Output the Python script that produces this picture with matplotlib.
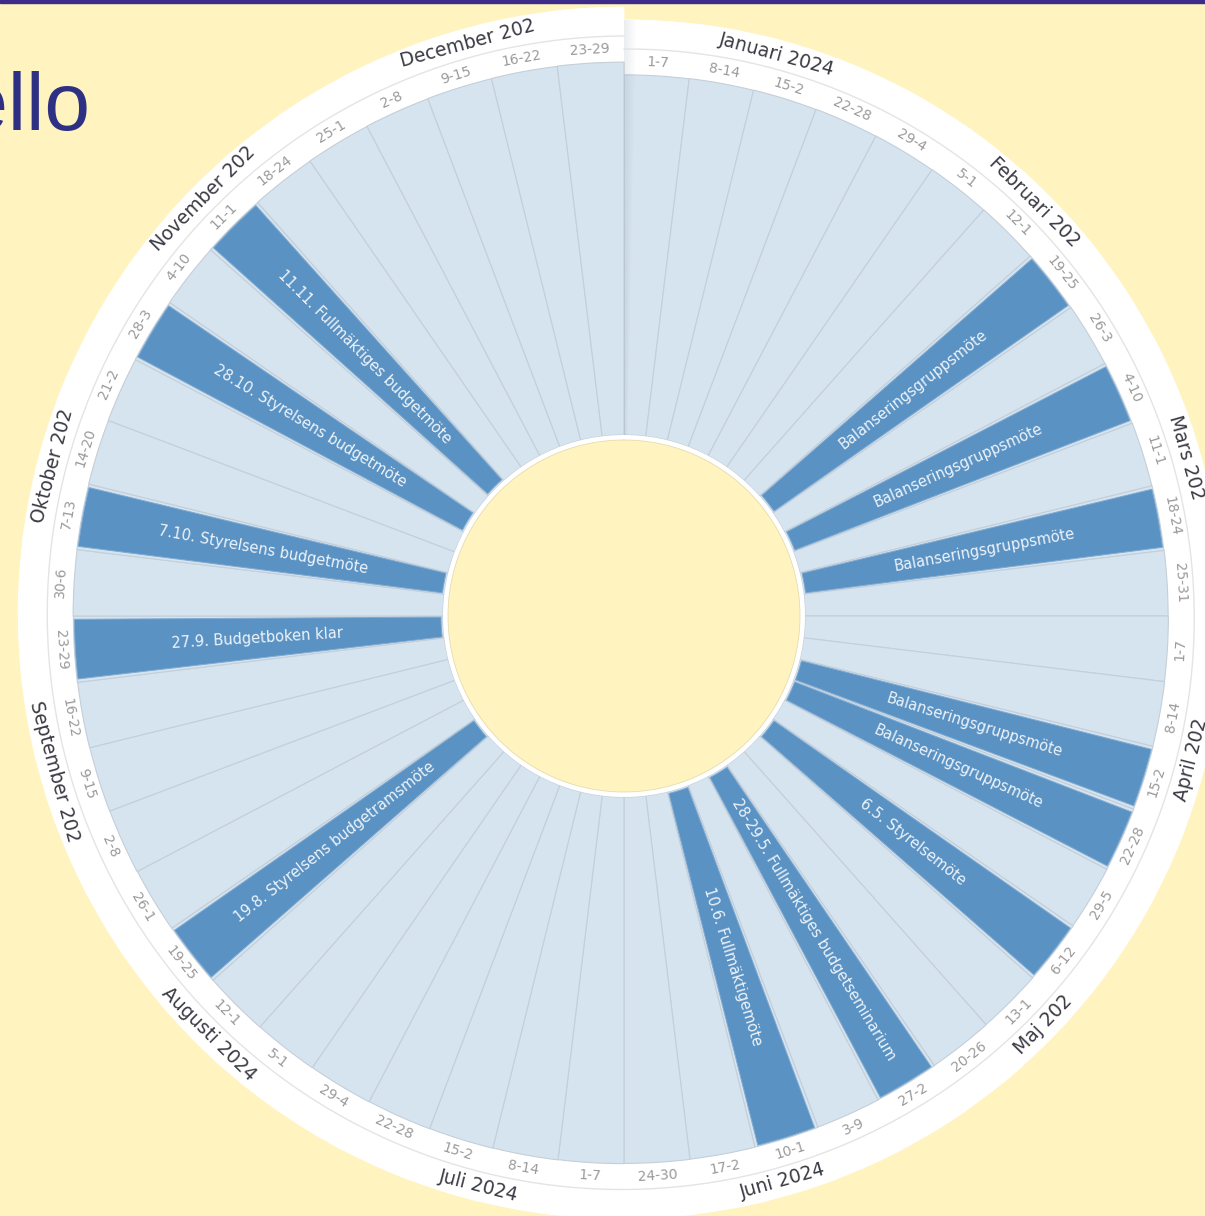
import numpy as np
import matplotlib.pyplot as plt

# --- data -----------------------------------------------------------------
weeks = ['1-7', '8-14', '15-2', '22-28', '29-4',
         '5-1', '12-1', '19-25', '26-3',
         '4-10', '11-1', '18-24', '25-31',
         '1-7', '8-14', '15-2', '22-28', '29-5',
         '6-12', '13-1', '20-26', '27-2',
         '3-9', '10-1', '17-2', '24-30',
         '1-7', '8-14', '15-2', '22-28', '29-4',
         '5-1', '12-1', '19-25', '26-1',
         '2-8', '9-15', '16-22', '23-29',
         '30-6', '7-13', '14-20', '21-2', '28-3',
         '4-10', '11-1', '18-24', '25-1',
         '2-8', '9-15', '16-22', '23-29']

months = ['Januari 2024', 'Februari 202', 'Mars 202', 'April 202', 'Maj 202',
          'Juni 2024', 'Juli 2024', 'Augusti 2024', 'September 202',
          'Oktober 202', 'November 202', 'December 202']
month_days = [31, 29, 31, 30, 31, 30, 31, 31, 30, 31, 30, 31]

event_weeks = [7, 9, 11, 15, 16, 18, 21, 23, 33, 38, 40, 43, 45]
event_labels = ['Balanseringsgruppsmöte', 'Balanseringsgruppsmöte',
                'Balanseringsgruppsmöte', 'Balanseringsgruppsmöte',
                'Balanseringsgruppsmöte', '6.5. Styrelsemöte',
                '28-29.5. Fullmäktiges budgetseminarium',
                '10.6. Fullmäktigemöte',
                '19.8. Styrelsens budgetramsmöte',
                '27.9. Budgetboken klar',
                '7.10. Styrelsens budgetmöte',
                '28.10. Styrelsens budgetmöte',
                '11.11. Fullmäktiges budgetmöte']

# --- style ----------------------------------------------------------------
BG = '#fff3bf'
LIGHT = '#d6e4f0'
DARK = '#5a92c3'

W, H = 1205, 1216
CX, CY = 624, 616          # wheel centre in pixels (from top)
R = 620                    # axes radius in pixels -> data units are pixels
R_IN = 181
R_OUT0, R_GROW = 541, 13   # outer edge grows slightly over the year
RING = 55

n = len(weeks)
slot = 2 * np.pi / n
theta = (np.arange(n) + 0.5) * slot
r_out = R_OUT0 + R_GROW * (np.arange(n) + 0.5) / n


def tang_rot(t):
    d = np.degrees(t) % 360
    return 180 - d if 90 < d < 270 else -d


def rad_rot(t):
    d = np.degrees(t) % 360
    return 90 - d if d < 180 else 270 - d


fig = plt.figure(figsize=(W / 100, H / 100), dpi=100, facecolor=BG)
ax = fig.add_axes([(CX - R) / W, (H - CY - R) / H, 2 * R / W, 2 * R / H],
                  projection='polar')
ax.set_theta_zero_location('N')
ax.set_theta_direction(-1)
ax.set_ylim(0, R)
ax.axis('off')

# white outer ring
ax.bar(theta, RING, width=slot, bottom=r_out, color='white',
       edgecolor='white', linewidth=0.6)
# separator line inside the ring
tt = np.linspace(0, 2 * np.pi, 800)
ax.plot(tt, R_OUT0 + R_GROW * tt / (2 * np.pi) + 26, color='#e4e4e4', lw=1)

# week wedges
ax.bar(theta, r_out - R_IN, width=slot, bottom=R_IN, color=LIGHT,
       edgecolor='#c4cfd9', linewidth=0.8)

# shadow where December overlaps January
for k in range(8):
    ax.bar(k * 0.0025, r_out[0] + RING - R_IN, width=0.0025, bottom=R_IN,
           align='edge', color='#6a7a88', alpha=0.13 * (1 - k / 8),
           linewidth=0)

# highlighted events
ev_theta = theta[event_weeks]
ev_rout = r_out[event_weeks]
ax.bar(ev_theta, ev_rout - R_IN - 3, width=slot * 0.9, bottom=R_IN + 2,
       color=DARK, edgecolor='#7eaad2', linewidth=0.7)
for t, lab in zip(ev_theta, event_labels):
    ax.text(t, 367, lab, rotation=rad_rot(t), rotation_mode='anchor',
            ha='center', va='center', fontsize=10.5, color='#eef4fa')

# inner circle
ax.bar(0, R_IN, width=2 * np.pi, bottom=0, color='white', linewidth=0)
ax.bar(0, R_IN - 5, width=2 * np.pi, bottom=0, color=BG, linewidth=0)
ax.plot(tt, np.full_like(tt, R_IN - 5), color='#e6dcb0', lw=0.6)

# week labels
for t, r, lab in zip(theta, r_out, weeks):
    ax.text(t, r + 13, lab, rotation=tang_rot(t), rotation_mode='anchor',
            ha='center', va='center', fontsize=10, color='#9a9a9a')

# month labels at mid-month
start = np.cumsum([0] + month_days[:-1])
for s, d, lab in zip(start, month_days, months):
    t = (s + d / 2) / sum(month_days) * 2 * np.pi
    r = R_OUT0 + R_GROW * t / (2 * np.pi) + 40
    ax.text(t, r, lab, rotation=tang_rot(t), rotation_mode='anchor',
            ha='center', va='center', fontsize=13.5, color='#3b3b45')

# page decorations
fig.add_artist(plt.Rectangle((0, 1 - 2.5 / H), 1, 2.5 / H,
                             transform=fig.transFigure, color='#3d2b8a'))
fig.text(90 / W, 1 - 130 / H, 'Hello', ha='right', va='baseline',
         fontsize=59, color='#2e3183', family='Liberation Sans')

fig.savefig('out.png', dpi=100, facecolor=BG)
